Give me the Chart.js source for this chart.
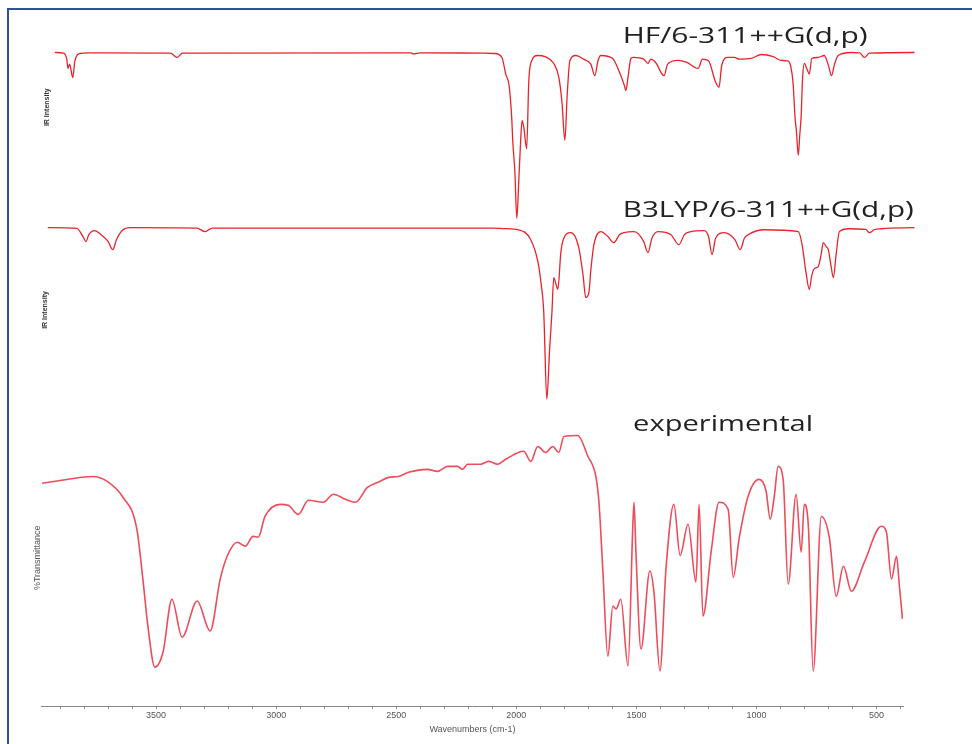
<!DOCTYPE html>
<html>
<head>
<meta charset="utf-8">
<title>IR spectra</title>
<script src="https://cdn.jsdelivr.net/npm/chart.js@4.4.1/dist/chart.umd.min.js"></script>
<style>
  html, body { margin: 0; padding: 0; background: #fff; }
  #wrap { position: relative; width: 972px; height: 744px; }
</style>
</head>
<body>
<div id="wrap"><canvas id="irChart"></canvas></div>
<script>
// wavenumbers (cm-1) and relative values
const hfWavenumber = [3922,3885,3872,3867,3860,3847,3838,3817,3780,3440,3413,3390,2440,2428,2400,2136,2090,2060,2044,2030,2019,2015,2006,1998,1990,1982,1976,1969,1957,1948,1936,1911,1880,1844,1823,1810,1798,1788,1777,1752,1720,1690,1673,1660,1648,1600,1570,1550,1544,1535,1523,1510,1470,1452,1440,1420,1385,1370,1327,1290,1243,1225,1200,1170,1156,1145,1120,1093,1070,1022,980,930,897,870,858,848,839,834,826,820,814,808,801,790,780,770,745,718,700,688,675,660,605,570,551,530,342];
const hfIntensity = [100,99.6,96,90.4,93,84.9,95,99.4,99.8,99.6,97,99.6,99.8,99.2,99.8,99.6,99.4,97,87,80,60,47,28,0,22,47,59,55,42,83,95,98.2,97.5,93.4,85,70,47,75,95,98.2,96,93,86,95,98.2,96.5,88,80,77,85,96.4,97,96,93.4,96,94,86,93,95.2,94,90.4,96,95,82,79,92,97,97,96,96.4,98.8,97.5,95.2,95,92,82,60,53,38,50,62,85,93.4,90,87,96.4,97,98.2,92,86,93,98.2,100,99.8,97,99.6,100];

const b3lypWavenumber = [3951,3830,3805,3792,3780,3755,3730,3700,3680,3665,3640,3609,3330,3296,3265,2100,2050,1990,1940,1910,1898,1886,1873,1861,1852,1844,1835,1827,1815,1807,1773,1740,1722,1711,1698,1690,1677,1648,1620,1594,1570,1552,1510,1470,1452,1435,1410,1356,1323,1300,1273,1218,1200,1185,1170,1135,1090,1068,1050,1035,968,826,810,795,780,770,760,743,730,722,710,701,690,680,668,655,618,545,530,510,480,342];
const b3lypIntensity = [100,99.6,95,91.9,96,98.3,96,92,87.2,93,98.5,100,99.8,97.7,99.8,99.8,99.5,98.8,93,80,68.6,51.2,0,30.2,50,70.9,67,64,85,91.9,97.1,88.4,72,59.3,62,75,90.1,97.7,95,91.3,96,97.1,97.7,92,85.5,94,97.7,95.9,90.1,96,97.7,98.3,95,84.3,94,97.1,93,87.2,94,95.9,98.8,97.7,90,75,64,72,76,77.3,85,91.3,89,87.2,78,70.9,85,97.7,99.4,99,97.1,98.8,99.4,100];

const expWavenumber = [3975,3872,3763,3705,3638,3580,3555,3534,3505,3471,3434,3392,3329,3275,3233,3204,3162,3129,3096,3075,3046,2983,2950,2908,2866,2804,2762,2712,2670,2620,2566,2532,2491,2449,2370,2328,2286,2245,2224,2203,2149,2115,2078,2044,1969,1940,1911,1878,1848,1823,1802,1744,1702,1669,1656,1640,1619,1598,1585,1565,1535,1515,1510,1502,1481,1444,1427,1402,1377,1344,1318,1285,1252,1239,1223,1189,1156,1118,1097,1072,1035,989,960,943,926,910,889,868,835,814,801,784,764,730,697,668,638,605,551,480,459,438,417,405,392];
const expTransmittance = [75.1,76.4,77.4,75.8,70.4,59.6,42.8,26.9,13.1,18.2,36,23.2,35.4,25.3,42.8,50.5,55.2,53.9,57.2,56.9,64,68,67.7,64.6,69.4,68.7,71.4,69.7,68.7,73.7,75.8,77.1,77.4,78.8,79.8,79.1,80.8,80.8,79.8,81.5,81.5,82.5,81.5,83.2,85.9,82.5,87.5,85.5,87.5,85.5,90.9,91.2,84.2,77.4,68.7,46.1,16.8,33.7,32.7,36,13.5,60.6,68.7,51.9,19.2,45.5,38.4,11.8,46.1,68,50.8,61.3,41.8,68,30.3,51.9,68.7,66.3,43.4,56.6,70.7,76.4,72.4,63,70.7,80.8,76.4,41.1,71.4,51.9,68,60.6,11.8,63.9,56.9,37,47.1,38.7,48.5,60.6,58.6,42.8,50.5,40.4,29.3];

const majorTicks = [3500, 3000, 2500, 2000, 1500, 1000, 500];

const panelLabels = [
  { text: 'HF/6-311++G(d,p)', axis: 'yHF', wn: 1047, val: 106, width: 245 },
  { text: 'B3LYP/6-311++G(d,p)', axis: 'yB3', wn: 951, val: 106.4, width: 291 },
  { text: 'experimental', axis: 'yExp', wn: 1139, val: 92.6, width: 180 }
];

const axisTitles = [
  { text: 'IR Intensity', axis: 'yHF', x: 47, val: 67, font: 'bold 7px "Liberation Sans"', color: '#333' },
  { text: 'IR Intensity', axis: 'yB3', x: 45, val: 52, font: 'bold 7px "Liberation Sans"', color: '#333' },
  { text: '%Transmittance', axis: 'yExp', x: 38, val: 50, font: '9px "Liberation Sans"', color: '#555' }
];

function toPoints(xs, ys) {
  return xs.map((x, i) => ({ x: x, y: ys[i] }));
}

const framePlugin = {
  id: 'frame',
  beforeDraw(chart) {
    const ctx = chart.ctx;
    ctx.save();
    ctx.fillStyle = '#fff';
    ctx.fillRect(0, 0, chart.width, chart.height);
    ctx.strokeStyle = '#2f5290';
    ctx.lineWidth = 2;
    ctx.beginPath();
    ctx.moveTo(8, chart.height);
    ctx.lineTo(8, 9);
    ctx.lineTo(chart.width, 9);
    ctx.stroke();
    ctx.restore();
  }
};

const labelPlugin = {
  id: 'panelLabels',
  afterDatasetsDraw(chart) {
    const ctx = chart.ctx;
    const xs = chart.scales.x;
    ctx.save();
    ctx.fillStyle = '#222';
    ctx.font = '21px "Open Sans"';
    ctx.textAlign = 'center';
    ctx.textBaseline = 'alphabetic';
    panelLabels.forEach(l => {
      const px = xs.getPixelForValue(l.wn);
      const py = chart.scales[l.axis].getPixelForValue(l.val);
      const w = ctx.measureText(l.text).width;
      ctx.save();
      ctx.translate(px, py);
      ctx.scale(l.width / w, 1);
      ctx.fillText(l.text, 0, 0);
      ctx.restore();
    });
    // small rotated y titles
    ctx.textBaseline = 'middle';
    axisTitles.forEach(t => {
      const py = chart.scales[t.axis].getPixelForValue(t.val);
      ctx.save();
      ctx.translate(t.x, py);
      ctx.rotate(-Math.PI / 2);
      ctx.font = t.font;
      ctx.fillStyle = t.color;
      ctx.fillText(t.text, 0, 0);
      ctx.restore();
    });
    ctx.restore();
  }
};

Chart.defaults.font.family = '"Liberation Sans", Arial, sans-serif';

const hidden = {
  position: 'left',
  stack: 'spectra',
  ticks: { display: false },
  grid: { display: false },
  border: { display: false },
  title: { display: false }
};

const ctx = document.getElementById('irChart').getContext('2d');
const irChart = new Chart(ctx, {
  type: 'line',
  data: {
    datasets: [
      {
        label: 'HF/6-311++G(d,p)',
        data: toPoints(hfWavenumber, hfIntensity),
        yAxisID: 'yHF',
        borderColor: '#e8232b',
        borderWidth: 1.3,
        pointRadius: 0,
        cubicInterpolationMode: 'monotone',
        clip: false
      },
      {
        label: 'B3LYP/6-311++G(d,p)',
        data: toPoints(b3lypWavenumber, b3lypIntensity),
        yAxisID: 'yB3',
        borderColor: '#e8232b',
        borderWidth: 1.3,
        pointRadius: 0,
        cubicInterpolationMode: 'monotone',
        clip: false
      },
      {
        label: 'experimental',
        data: toPoints(expWavenumber, expTransmittance),
        yAxisID: 'yExp',
        borderColor: '#ee4c5a',
        borderWidth: 1.6,
        pointRadius: 0,
        cubicInterpolationMode: 'monotone'
      }
    ]
  },
  options: {
    responsive: true,
    maintainAspectRatio: false,
    animation: false,
    layout: { padding: { left: 34, right: 69, top: 16, bottom: 5.4 } },
    plugins: {
      legend: { display: false },
      tooltip: { enabled: false }
    },
    scales: {
      x: {
        type: 'linear',
        reverse: true,
        min: 390,
        max: 3975,
        grid: { drawOnChartArea: false, tickLength: 3, color: '#999' },
        border: { color: '#888', width: 1 },
        ticks: {
          stepSize: 100,
          includeBounds: false,
          autoSkip: false,
          maxRotation: 0,
          padding: 1,
          color: '#555',
          font: { size: 9 },
          callback: v => majorTicks.includes(v) ? String(v) : ''
        },
        title: {
          display: true,
          text: 'Wavenumbers (cm-1)',
          color: '#555',
          font: { size: 9 },
          padding: { top: 2, bottom: 4 }
        }
      },
      yHF: { ...hidden, stackWeight: 206, weight: 3, min: -2, max: 122 },
      yB3: { ...hidden, stackWeight: 188, weight: 2, min: -6, max: 103.5 },
      yExp: { ...hidden, stackWeight: 297, weight: 1, min: 0, max: 100 }
    }
  },
  plugins: [framePlugin, labelPlugin]
});
</script>
</body>
</html>
